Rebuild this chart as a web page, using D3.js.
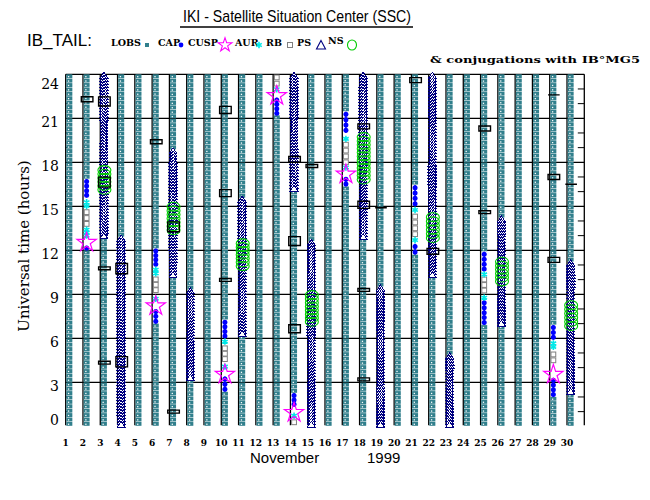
<!DOCTYPE html>
<html>
<head>
<meta charset="utf-8">
<script src="https://cdn.jsdelivr.net/npm/d3@7"></script>
<style>
  body { margin: 0; background: #fff; }
  svg { display: block; }
</style>
</head>
<body>
<div id="chart"></div>
<script>
// tick labels
const dayTicks = [1,2,3,4,5,6,7,8,9,10,11,12,13,14,15,16,17,18,19,20,21,22,23,24,25,26,27,28,29,30];
const hourTicks = [0,3,6,9,12,15,18,21,24];
const minorHours = [1,2,4,5,7,8,10,11,13,14,16,17,19,20,22,23];

// [day, from hour, to hour]
const lobs = [
  [1,0,24],[2,16.85,24],[2,0,12.0],[3,0,12.85],[4,12.9,24],[5,0,24],
  [6,12.1,24],[6,0,7.0],[7,18.85,24],[7,0,10.2],[8,9.3,24],[8,0,3.2],
  [9,0,24],[10,7.25,24],[10,0,2.35],[11,15.55,24],[11,0,6.2],[12,0,24],
  [13,0,21.2],[14,2.25,16.1],[15,12.6,24],[16,0,24],[17,21.45,24],[17,0,16.35],
  [18,0,12.8],[19,9.5,24],[20,0,24],[21,16.45,24],[21,0,11.7],[22,0,10.2],
  [23,4.86,24],[24,0,24],[25,11.9,24],[25,0,6.9],[26,14.2,24],[26,0,6.9],
  [27,0,24],[28,0,24],[29,6.9,24],[29,0,2.0],[30,11.2,24],[30,0,2.25]
];
const ps = [
  [3,12.85,24],[4,0,12.9],[7,10.2,18.85],[8,3.2,9.3],[11,6.2,15.55],[14,16.1,24],
  [15,0,12.6],[18,12.8,24],[19,0,9.5],[22,10.2,24],[23,0,4.86],[26,6.9,14.2],[30,2.25,11.2]
];
const ns = [
  [3,16.0,17.6],[7,13.25,15.1],[11,10.8,12.6],[15,7.0,9.07],
  [18,16.7,19.85],[22,12.7,14.4],[26,9.75,11.35],[30,6.7,8.4]
];
const cap = [
  [2,15.6,16.85],[2,12.0,12.3],[6,10.9,12.1],[6,7.0,8.0],[10,6.0,7.25],[10,2.35,3.4],
  [13,21.2,22.4],[14,1.35,2.25],[17,20.0,21.45],[17,16.35,17.0],[21,15.0,16.45],[21,11.7,12.45],
  [25,10.55,11.9],[25,6.9,8.6],[29,5.9,6.9],[29,2.0,3.3]
];
const aur = [
  [2,14.9,15.4],[2,12.9,13.5],[6,10.3,10.8],[6,8.6,8.8],[10,5.77,5.77],[10,4.07,4.07],
  [13,22.98,22.98],[14,0.72,0.72],[17,19.6,19.6],[17,17.65,17.65],[21,14.75,14.75],[21,12.7,12.7],
  [25,10.36,10.36],[25,8.77,8.77],[29,5.3,5.77]
];
const rb = [
  [2,13.6,14.8],[6,9.1,10.2],[10,4.4,5.5],[13,23.15,24],[14,0,0.55],
  [17,17.8,19.4],[21,12.9,14.5],[25,9.07,10.2],[29,4.3,5.1]
];
// [day, hour]
const cusp = [[2,12.6],[6,8.27],[10,3.6],[13,22.6],[14,1.0],[17,17.25],[29,3.6]];
// conjugations: [day, hour, duration in hours]
const conj = [
  [2,22.3,0.34],[3,22.15,0.62],[3,16.65,0.68],[3,10.77,0.2],[3,4.34,0.2],
  [4,10.75,0.7],[4,4.4,0.7],[6,19.4,0.27],[7,13.6,0.68],[7,1.0,0.2],
  [10,21.57,0.48],[10,15.9,0.48],[10,9.98,0.2],[14,18.2,0.4],[14,12.63,0.6],[14,6.65,0.55],
  [15,17.75,0.2],[18,20.45,0.34],[18,15.1,0.48],[18,9.3,0.2],[18,3.2,0.2],[19,14.9,0],
  [21,23.6,0.34],[22,11.93,0.4],[25,20.3,0.34],[25,14.6,0.2],
  [29,22.6,0],[29,17.0,0.34],[29,11.35,0.34],[30,16.5,0]
];

const legendItems = [
  {label: "LOBS", kind: "lobs"}, {label: "CAP", kind: "cap"}, {label: "CUSP", kind: "cusp"},
  {label: "AUR", kind: "aur"}, {label: "RB", kind: "rb"}, {label: "PS", kind: "ps"}, {label: "NS", kind: "ns"}
];

const W = 650, H = 500;
const colors = {lobs: "#317f8c", cap: "#0000ff", cusp: "#ff00ff", aur: "#00e8e8", rb: "#808080", ps: "#000080", ns: "#00cc00"};

const svg = d3.select("#chart").append("svg").attr("width", W).attr("height", H);

const x = d3.scaleLinear().domain([1, 31]).range([65.7, 584.3]);
const y = d3.scaleLinear().domain([0, 24]).range([426.3, 74.3]);
const off = 0.21; // marks sit just right of the day line

// spread marks along an interval at roughly `step` px
function spread(iv, step) {
  const top = y(iv[2]), bot = y(iv[1]);
  const n = Math.max(1, Math.round((bot - top) / step));
  const h = (bot - top) / n;
  return d3.range(n).map(i => ({cx: x(iv[0] + off), cy: h === 0 ? top : top + (i + 0.5) * h, h: h}));
}

// grid
const grid = svg.append("g").attr("stroke", "#000").attr("stroke-width", 1.3);
grid.selectAll(".v").data(dayTicks.concat([31])).join("line")
  .attr("x1", d => x(d)).attr("x2", d => x(d))
  .attr("y1", y(24)).attr("y2", y(0) - 1);
grid.selectAll(".h").data(hourTicks.filter(d => d > 0)).join("line")
  .attr("x1", x(1)).attr("x2", x(31))
  .attr("y1", d => y(d)).attr("y2", d => y(d));
const minor = svg.append("g").attr("stroke", "#000").attr("stroke-width", 1);
minor.selectAll(".l").data(minorHours).join("line")
  .attr("x1", x(1)).attr("x2", x(1) + 5).attr("y1", d => y(d)).attr("y2", d => y(d));
minor.selectAll(".r").data(minorHours).join("line")
  .attr("x1", x(31) - 6.5).attr("x2", x(31)).attr("y1", d => y(d)).attr("y2", d => y(d));

// LOBS: stacked teal squares
const lobsPts = lobs.flatMap(iv => spread(iv, 4.4));
const gL = svg.append("g");
gL.selectAll("rect.s").data(lobsPts).join("rect")
  .attr("x", d => d.cx - 3).attr("y", d => d.cy - d.h / 2)
  .attr("width", 6).attr("height", d => d.h - 0.5)
  .attr("fill", colors.lobs);
gL.selectAll("rect.d").data(lobsPts).join("rect")
  .attr("x", d => d.cx - 1.4).attr("y", d => d.cy - 0.5)
  .attr("width", 1.3).attr("height", 1.3).attr("fill", "#fff");

// PS: stacked triangles
const tri = "M0,-3.6L4,2.6L-4,2.6Z";
svg.append("g").attr("shape-rendering", "crispEdges")
  .selectAll("path").data(ps.flatMap(iv => spread(iv, 3))).join("path")
  .attr("d", tri).attr("transform", d => `translate(${d.cx},${d.cy})`)
  .attr("fill", "#fff").attr("stroke", colors.ps).attr("stroke-width", 1.0);

// RB: open gray squares
svg.append("g").selectAll("rect").data(rb.flatMap(iv => spread(iv, 5.5))).join("rect")
  .attr("x", d => d.cx - 2.4).attr("y", d => d.cy - 2.4).attr("width", 4.8).attr("height", 4.8)
  .attr("fill", "#fff").attr("stroke", colors.rb).attr("stroke-width", 1);

// CAP: blue dots
const gC = svg.append("g");
gC.selectAll("line").data(cap).join("line")
  .attr("x1", d => x(d[0] + off)).attr("x2", d => x(d[0] + off))
  .attr("y1", d => y(d[2])).attr("y2", d => y(d[1]))
  .attr("stroke", colors.cap).attr("stroke-width", 1.5);
gC.selectAll("circle").data(cap.flatMap(iv => spread(iv, 5))).join("circle")
  .attr("cx", d => d.cx).attr("cy", d => d.cy).attr("r", 2.5).attr("fill", colors.cap);

// AUR: cyan asterisks
const ast = "M0,-3.2V3.2M-2.8,-1.6L2.8,1.6M-2.8,1.6L2.8,-1.6";
svg.append("g").selectAll("path").data(aur.flatMap(iv => spread(iv, 3))).join("path")
  .attr("d", ast).attr("transform", d => `translate(${d.cx},${d.cy})`)
  .attr("fill", "none").attr("stroke", colors.aur).attr("stroke-width", 1.6);

// NS: stacked green ellipses
svg.append("g").selectAll("ellipse").data(ns.flatMap(iv => spread(iv, 4))).join("ellipse")
  .attr("cx", d => d.cx + 0.5).attr("cy", d => d.cy).attr("rx", 6.5).attr("ry", 4.5)
  .attr("fill", "none").attr("stroke", colors.ns).attr("stroke-width", 1.1);

// CUSP: magenta stars
const star = d3.symbol(d3.symbolStar, 115)();
svg.append("g").selectAll("path").data(cusp).join("path")
  .attr("d", star).attr("transform", d => `translate(${x(d[0] + off)},${y(d[1]) + 1})`)
  .attr("fill", "none").attr("stroke", colors.cusp).attr("stroke-width", 1.2);

// conjugations: open black rectangles
svg.append("g").selectAll("path").data(conj).join("path")
  .attr("d", d => {
    const p = d3.path(), cx = x(d[0] + off) + 0.5;
    const y0 = y(d[1] + d[2] / 2), y1 = y(d[1] - d[2] / 2);
    p.rect(cx - 5.8, y0, 11.6, y1 - y0);
    return p.toString();
  })
  .attr("fill", "none").attr("stroke", "#000").attr("stroke-width", 1.4);

// axis labels
svg.append("g").selectAll("text").data(dayTicks).join("text")
  .attr("x", d => x(d)).attr("y", 446)
  .attr("text-anchor", "middle")
  .attr("font-family", "DejaVu Serif").attr("font-weight", "bold").attr("font-size", 9)
  .text(d => d);
svg.append("g").selectAll("text").data(hourTicks).join("text")
  .attr("x", 59)
  .attr("y", d => d === 24 ? y(d) + 15 : d === 0 ? y(d) - 1 : y(d) + 9)
  .attr("text-anchor", "end")
  .attr("font-family", "DejaVu Serif").attr("font-size", 14)
  .text(d => d);

svg.append("text").attr("transform", "translate(29,246) rotate(-90)")
  .attr("text-anchor", "middle")
  .attr("font-family", "DejaVu Serif").attr("font-size", 15)
  .text("Universal time (hours)");

svg.append("text").attr("x", 250).attr("y", 463)
  .attr("font-family", "Liberation Sans").attr("font-size", 15)
  .text("November");
svg.append("text").attr("x", 367).attr("y", 463)
  .attr("font-family", "Liberation Sans").attr("font-size", 15)
  .text("1999");

// title
svg.append("text").attr("x", 183).attr("y", 22)
  .attr("font-family", "Liberation Sans").attr("font-size", 17)
  .attr("textLength", 228).attr("lengthAdjust", "spacingAndGlyphs")
  .text("IKI - Satellite Situation Center (SSC)");
svg.append("line").attr("x1", 180).attr("x2", 413).attr("y1", 27).attr("y2", 27)
  .attr("stroke", "#000").attr("stroke-width", 1.3);

svg.append("text").attr("x", 27).attr("y", 46)
  .attr("font-family", "Liberation Sans").attr("font-size", 17)
  .text("IB_TAIL:");

// legend
const legX = [111, 158, 188, 235, 266, 297, 328];
const legSym = [147, 181, 225, 259, 290, 321, 352];
const leg = svg.append("g");
leg.selectAll("text").data(legendItems).join("text")
  .attr("x", (d, i) => legX[i]).attr("y", d => d.kind === "ns" ? 44 : 46)
  .attr("font-family", "DejaVu Serif").attr("font-weight", "bold").attr("font-size", 9.5)
  .text(d => d.label);
legendItems.forEach((d, i) => {
  const sx = legSym[i], sy = 45;
  if (d.kind === "lobs") leg.append("rect").attr("x", sx - 2).attr("y", sy - 2).attr("width", 4).attr("height", 4).attr("fill", colors.lobs);
  if (d.kind === "cap") leg.append("circle").attr("cx", sx).attr("cy", sy).attr("r", 2.4).attr("fill", colors.cap);
  if (d.kind === "cusp") leg.append("path").attr("d", d3.symbol(d3.symbolStar, 60)()).attr("transform", `translate(${sx},${sy})`).attr("fill", "none").attr("stroke", colors.cusp).attr("stroke-width", 1.1);
  if (d.kind === "aur") leg.append("path").attr("d", ast).attr("transform", `translate(${sx},${sy})`).attr("fill", "none").attr("stroke", colors.aur).attr("stroke-width", 1.6);
  if (d.kind === "rb") leg.append("rect").attr("x", sx - 2.5).attr("y", sy - 2.5).attr("width", 5).attr("height", 5).attr("fill", "none").attr("stroke", colors.rb);
  if (d.kind === "ps") leg.append("path").attr("d", "M0,-4.5L4.5,4L-4.5,4Z").attr("transform", `translate(${sx},${sy})`).attr("fill", "none").attr("stroke", colors.ps).attr("stroke-width", 1.1);
  if (d.kind === "ns") leg.append("ellipse").attr("cx", sx).attr("cy", sy).attr("rx", 4.5).attr("ry", 5).attr("fill", "none").attr("stroke", colors.ns).attr("stroke-width", 1.1);
});

svg.append("text").attr("x", 430).attr("y", 63)
  .attr("font-family", "DejaVu Serif").attr("font-weight", "bold").attr("font-size", 10)
  .attr("textLength", 210).attr("lengthAdjust", "spacingAndGlyphs")
  .text("& conjugations with IB°MG5");
</script>
</body>
</html>
